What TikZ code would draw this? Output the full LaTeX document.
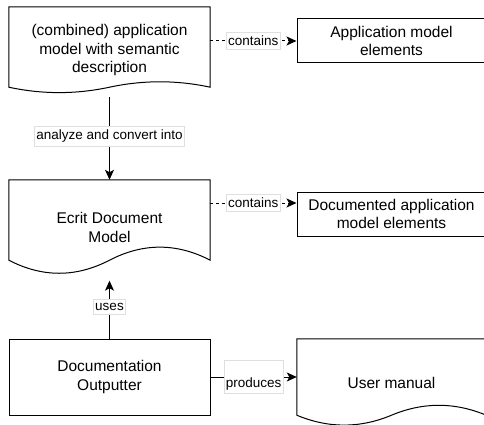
\documentclass[tikz,border=0pt]{standalone}
\usepackage{fontspec}
\setmainfont{Liberation Sans}
\usetikzlibrary{positioning, arrows.meta, calc}

\newcommand{\nodefont}{\fontsize{15.5}{18.5}\selectfont}
\newcommand{\lblfont}{\fontsize{13.5}{16}\selectfont}

% outline of a document shape round node #1, wave depth #2
\newcommand{\docoutline}[2]{%
  \coordinate (#1-r) at ($(#1.south east)+(0,-#2/2)$);
  \coordinate (#1-m) at ($(#1.south)+(0,-#2/2)$);
  \coordinate (#1-l) at ($(#1.south west)+(0,-#2/2)$);
  \coordinate (#1-qr) at ($(#1.south)!0.5!(#1.south east)+(0,-1.4*#2)$);
  \coordinate (#1-ql) at ($(#1.south west)!0.5!(#1.south)+(0,0.4*#2)$);
  \draw[shapeline] (#1.north west) -- (#1.north east) -- (#1-r)
    .. controls ($(#1-r)!0.667!(#1-qr)$) and ($(#1-m)!0.667!(#1-qr)$) .. (#1-m)
    .. controls ($(#1-m)!0.667!(#1-ql)$) and ($(#1-l)!0.667!(#1-ql)$) .. (#1-l)
    -- cycle;
}

\begin{document}
\begin{tikzpicture}[x=1pt, y=-1pt,
  % Node Styles
  box/.style={rectangle, draw, line width=1pt, fill=white, align=center, font=\nodefont, inner sep=0pt},
  docbox/.style={rectangle, draw=none, align=center, font=\nodefont, inner sep=0pt},
  shapeline/.style={line width=1pt},
  % Arrow Styles
  flow/.style={-{Stealth[length=10pt, width=9pt, inset=2.5pt]}, line width=1pt},
  dashflow/.style={flow, dash pattern=on 3pt off 3pt},
  % Edge labels
  lbl/.style={solid, fill=white, draw=gray!25, line width=0.6pt, font=\lblfont, inner xsep=2pt, inner ysep=3.5pt, text=black}
]
\useasboundingbox (0,0) rectangle (484,425);

% left column
\node[docbox, minimum width=201pt, minimum height=86pt] (appmodel) at (109.5,50) {(combined) application\\model with semantic\\description};
\docoutline{appmodel}{12}
\node[docbox, minimum width=201pt, minimum height=94.5pt] (ecrit) at (109.5,227.25) {Ecrit Document\\Model};
\docoutline{ecrit}{29}
\node[box, minimum width=201pt, minimum height=76pt] (outputter) at (109.5,377) {Documentation\\Outputter};

% right column
\node[box, minimum width=189pt, minimum height=44pt] (appel) at (391.5,41) {Application model\\elements};
\node[box, minimum width=189pt, minimum height=44pt] (docel) at (391.5,214) {Documented application\\model elements};
\node[docbox, minimum width=189pt, minimum height=87pt] (manual) at (391.5,382.5) {User manual};
\docoutline{manual}{22}

% connectors
\draw[dashflow] (appmodel.east |- appel.west) -- node[lbl] {contains} (appel.west);
\coordinate (docelin) at ([yshift=11pt]docel.west);
\draw[dashflow] (ecrit.east |- docelin) -- node[lbl] {contains} (docelin);
\draw[flow, shorten <=4pt] (appmodel.south) -- node[lbl] {analyze and convert into} (ecrit.north);
\draw[flow, shorten >=6pt] (outputter.north) -- node[lbl] {uses} (ecrit.south);
\draw[flow] (outputter.east) -- node[lbl, text height=23pt, text depth=3pt] {produces} (outputter.east -| manual.west);

\end{tikzpicture}
\end{document}
